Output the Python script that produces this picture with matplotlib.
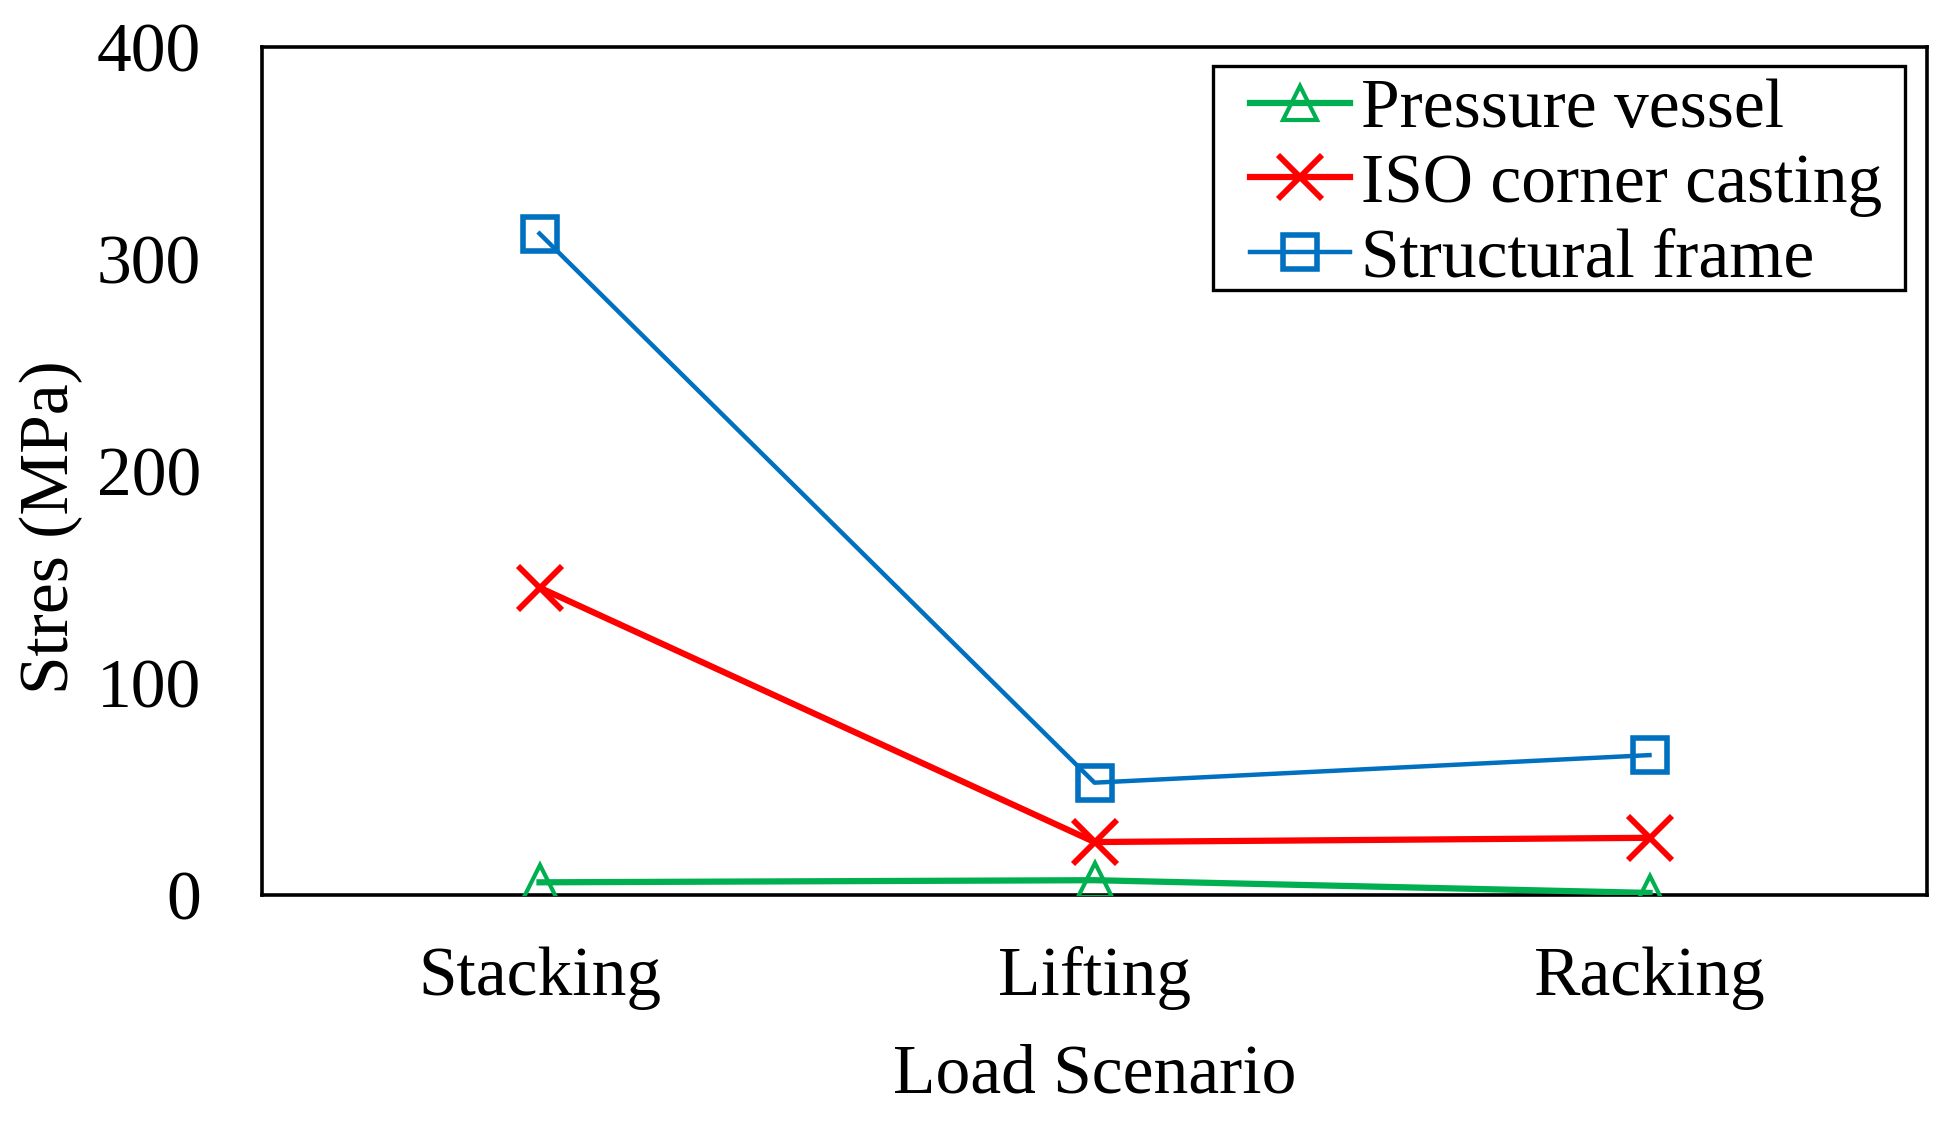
"""
Peak stress per component under the three ISO container load scenarios.
Writes out.png (1951x1124).
"""

import matplotlib
matplotlib.use("Agg")
import matplotlib.pyplot as plt
from matplotlib.patches import Rectangle

# values (MPa)
scenarios = ["Stacking", "Lifting", "Racking"]
pressure_vessel = [6, 7, 1]
iso_corner_casting = [145, 25, 27]
structural_frame = [312, 53, 66]

y_ticks = [0, 100, 200, 300, 400]

FS = 50


def main():
    plt.rcParams["font.family"] = ["Liberation Serif", "DejaVu Serif"]
    plt.rcParams["font.size"] = FS

    fig = plt.figure(figsize=(19.51, 11.24), dpi=100)
    ax = fig.add_axes([0.1343, 0.2037, 0.9877 - 0.1343, 0.9582 - 0.2037])

    x = list(range(len(scenarios)))
    ax.plot(x, pressure_vessel, "-", color="#00B050", lw=4.5,
            marker="^", ms=24, mfc="none", mec="#00B050", mew=3.0,
            label="Pressure vessel", zorder=3)
    ax.plot(x, iso_corner_casting, "-", color="#FF0000", lw=4.5,
            marker="x", ms=32, mew=4.2, label="ISO corner casting", zorder=4)
    ax.plot(x, structural_frame, "-", color="#0070C0", lw=3.2,
            marker="s", ms=25, mfc="none", mec="#0070C0", mew=4.0,
            label="Structural frame", zorder=5)

    ax.set_xlim(-0.5, 2.5)
    ax.set_ylim(0, 400)
    ax.set_xticks(x)
    ax.set_xticklabels(scenarios)
    ax.set_yticks(y_ticks)
    ax.tick_params(axis="both", length=0, labelsize=FS)
    ax.tick_params(axis="y", pad=44)
    ax.tick_params(axis="x", pad=37)
    for s in ax.spines.values():
        s.set_linewidth(2.6)
        s.set_color("black")

    ax.set_xlabel("Load Scenario", fontsize=FS)
    ax.xaxis.set_label_coords(0.5, -0.176)
    ax.set_ylabel("Stres (MPa)", fontsize=FS)
    ax.yaxis.set_label_coords(-0.1075, 0.434)

    # legend entries without frame; the box is drawn separately so the
    # horizontal padding can be wider than the vertical one (as in the original)
    ax.legend(loc="upper left", bbox_to_anchor=(0.5934, 0.963),
              borderaxespad=0, borderpad=0, frameon=False, fontsize=FS,
              handlelength=1.44, handletextpad=0.16, labelspacing=0.16)
    ax.add_patch(Rectangle((0.5712, 0.7134), 0.9868 - 0.5712, 0.9776 - 0.7134,
                           transform=ax.transAxes, fill=False,
                           edgecolor="black", lw=2.4, zorder=6))

    fig.savefig("out.png", dpi=100)
    plt.close(fig)


if __name__ == "__main__":
    main()
